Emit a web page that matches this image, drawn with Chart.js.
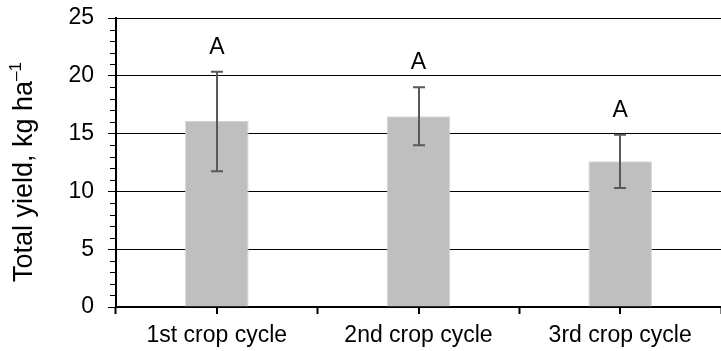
<!DOCTYPE html>
<html>
<head>
<meta charset="utf-8">
<script src="https://cdn.jsdelivr.net/npm/chart.js@4/dist/chart.umd.min.js"></script>
<style>
  html, body { margin: 0; padding: 0; background: #fff; }
  #wrap { width: 721px; height: 351px; }
</style>
</head>
<body>
<div id="wrap"><canvas id="yieldChart" width="721" height="351"></canvas></div>
<script>
// Data
const categories = ["1st crop cycle", "2nd crop cycle", "3rd crop cycle"];
const yieldMeans = [16.1, 16.5, 12.6];
const errHigh = [20.35, 19.0, 14.9];
const errLow = [11.75, 14.0, 10.3];
const groupLetters = ["A", "A", "A"];

const FONT = "'Liberation Sans', Arial, sans-serif";

// error bars, letters, minor ticks and the y title
const extrasPlugin = {
  id: "extras",
  afterDraw(chart) {
    const { ctx, scales: { x, y } } = chart;
    ctx.save();

    // minor y ticks every 1 unit
    ctx.strokeStyle = "#000";
    ctx.lineWidth = 1;
    for (let v = 0; v <= 25; v++) {
      if (v % 5 === 0) continue;
      const py = Math.round(y.getPixelForValue(v)) + 0.5;
      ctx.beginPath();
      ctx.moveTo(x.left - 6, py);
      ctx.lineTo(x.left, py);
      ctx.stroke();
    }

    // center ticks under each category
    ctx.lineWidth = 2;
    categories.forEach((c, i) => {
      const px = Math.round(x.getPixelForValue(i));
      ctx.beginPath();
      ctx.moveTo(px, y.bottom);
      ctx.lineTo(px, y.bottom + 7);
      ctx.stroke();
    });

    // error bars
    ctx.strokeStyle = "#595959";
    ctx.lineWidth = 2;
    categories.forEach((c, i) => {
      const px = Math.round(x.getPixelForValue(i));
      const hi = y.getPixelForValue(errHigh[i]);
      const lo = y.getPixelForValue(errLow[i]);
      ctx.beginPath();
      ctx.moveTo(px, hi);
      ctx.lineTo(px, lo);
      ctx.moveTo(px - 6, hi);
      ctx.lineTo(px + 6, hi);
      ctx.moveTo(px - 6, lo);
      ctx.lineTo(px + 6, lo);
      ctx.stroke();
    });

    // letters
    ctx.fillStyle = "#000";
    ctx.font = "23px " + FONT;
    ctx.textAlign = "center";
    ctx.textBaseline = "alphabetic";
    groupLetters.forEach((l, i) => {
      const px = x.getPixelForValue(i);
      ctx.fillText(l, px, y.getPixelForValue(errHigh[i]) - 18);
    });

    // y axis title with superscript
    const main = "Total yield, kg ha";
    const sup = "\u20131";
    ctx.font = "27px " + FONT;
    const wMain = ctx.measureText(main).width;
    ctx.font = "17px " + FONT;
    const wSup = ctx.measureText(sup).width;
    const total = wMain + wSup;
    ctx.translate(32, 172);
    ctx.rotate(-Math.PI / 2);
    ctx.textAlign = "left";
    ctx.font = "27px " + FONT;
    ctx.fillText(main, -total / 2, 0);
    ctx.font = "17px " + FONT;
    ctx.fillText(sup, -total / 2 + wMain, -11);

    ctx.restore();
  }
};

new Chart(document.getElementById("yieldChart"), {
  type: "bar",
  data: {
    labels: categories,
    datasets: [{
      data: yieldMeans,
      backgroundColor: "#bfbfbf",
      borderColor: "#d4d4d4",
      borderWidth: 1,
      barPercentage: 0.315,
      categoryPercentage: 1,
    }],
  },
  options: {
    responsive: false,
    animation: false,
    layout: { padding: { top: 18, right: 0, bottom: 0, left: 0 } },
    plugins: {
      legend: { display: false },
      tooltip: { enabled: false },
    },
    scales: {
      y: {
        min: 0,
        max: 25,
        afterFit: (s) => { s.width = 116; s.paddingTop = 0; s.paddingBottom = 0; },
        ticks: {
          stepSize: 5,
          color: "#000",
          padding: 14,
          font: { family: FONT, size: 23 },
        },
        grid: {
          color: "#000",
          lineWidth: 1,
          tickLength: 8,
          tickColor: "#000",
        },
        border: { display: true, color: "#000", width: 2 },
      },
      x: {
        afterFit: (s) => { s.height = 44; s.paddingLeft = 0; s.paddingRight = 0; },
        ticks: {
          color: "#000",
          padding: 8,
          font: { family: FONT, size: 23 },
        },
        grid: {
          offset: true,
          drawOnChartArea: false,
          tickLength: 7,
          tickColor: "#000",
          tickWidth: 2,
        },
        border: { display: true, color: "#000", width: 2 },
      },
    },
  },
  plugins: [extrasPlugin],
});
</script>
</body>
</html>
